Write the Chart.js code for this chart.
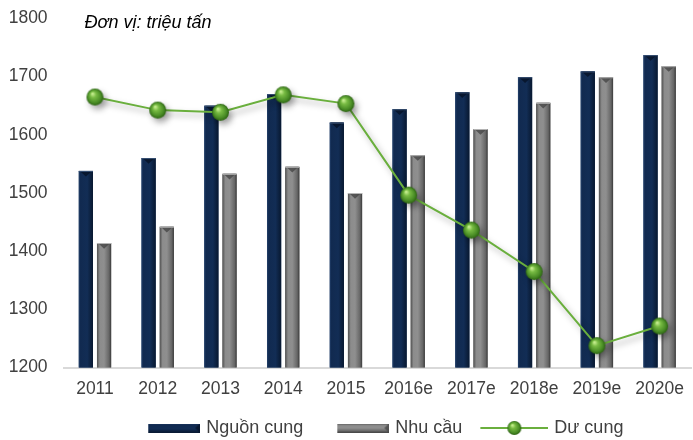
<!DOCTYPE html>
<html>
<head>
<meta charset="utf-8">
<title>Cung cầu</title>
<script src="https://cdn.jsdelivr.net/npm/chart.js@4.4.1/dist/chart.umd.min.js"></script>
<style>
  html, body { margin: 0; padding: 0; background: #fff; overflow: hidden; }
  #wrap { position: relative; width: 702px; height: 440px; }
</style>
</head>
<body>
<div id="wrap"><canvas id="supplyChart"></canvas></div>
<script>
// Data (triệu tấn)
const years = ['2011', '2012', '2013', '2014', '2015', '2016e', '2017e', '2018e', '2019e', '2020e'];
const supply = [1538, 1560, 1650, 1670, 1621, 1644, 1673, 1699, 1709, 1737];
const demand = [1414, 1442, 1533, 1545, 1500, 1565, 1610, 1655, 1699, 1718];
const surplus = [124, 118, 117, 125, 121, 79, 63, 44, 10, 19];
const yTicks = [1200, 1300, 1400, 1500, 1600, 1700, 1800];

const FONT = '"Liberation Sans", Arial, sans-serif';
const TEXT = '#404040';
const LINE_GREEN = '#6aaf3d';

// Bar shading: horizontal gradient stops + bevel colour
const shades = {
    navy: {
        stops: [[0, '#24416b'], [0.12, '#112a50'], [0.6, '#122d55'], [1, '#081830']],
        bevel: 'rgba(4, 14, 32, 0.7)',
        edge: '#3b5478'
    },
    gray: {
        stops: [[0, '#505050'], [0.2, '#8c8c8c'], [0.5, '#8f8f8f'], [0.85, '#666666'], [1, '#3a3a3a']],
        bevel: 'rgba(70, 70, 70, 0.8)',
        edge: '#b5b5b5'
    }
};

// Legend icon box: icons are right-aligned inside a canvas a bit wider than the box
const ICON_BOX = 76;
const ICON_W = ICON_BOX + 6;

function makeSphere(r) {
    const pad = 2;
    const c = document.createElement('canvas');
    c.width = c.height = (r + pad) * 2;
    const g = c.getContext('2d');
    const cx = r + pad, cy = r + pad;
    const grad = g.createRadialGradient(cx - r * 0.3, cy - r * 0.4, r * 0.08, cx, cy, r);
    grad.addColorStop(0, '#c3ec8c');
    grad.addColorStop(0.3, '#78bb43');
    grad.addColorStop(0.75, '#4a8d26');
    grad.addColorStop(1, '#2c6312');
    g.fillStyle = grad;
    g.beginPath();
    g.arc(cx, cy, r, 0, Math.PI * 2);
    g.fill();
    return c;
}

function makeBarSwatch(shade) {
    const c = document.createElement('canvas');
    c.width = ICON_W; c.height = 9;
    const g = c.getContext('2d');
    const x0 = ICON_W - 52;
    const grad = g.createLinearGradient(0, 0, 0, 9);
    shades[shade].stops.forEach(([p, col]) => grad.addColorStop(p, col));
    g.fillStyle = grad;
    g.fillRect(x0, 0, 52, 9);
    g.fillStyle = shades[shade].bevel;
    g.beginPath();
    g.moveTo(ICON_W, 0); g.lineTo(ICON_W, 9); g.lineTo(ICON_W - 5, 4.5); g.closePath();
    g.fill();
    return c;
}

function makeLineSwatch() {
    const c = document.createElement('canvas');
    c.width = ICON_W; c.height = 20;
    const g = c.getContext('2d');
    const x0 = ICON_W - 68;
    g.strokeStyle = LINE_GREEN;
    g.lineWidth = 2;
    g.beginPath(); g.moveTo(x0, 10); g.lineTo(ICON_W, 10); g.stroke();
    const s = makeSphere(7);
    g.drawImage(s, x0 + 34 - s.width / 2, 10 - s.height / 2);
    return c;
}

const sphere = makeSphere(8.5);
const legendIcons = [makeBarSwatch('navy'), makeBarSwatch('gray'), makeLineSwatch()];

// Paints the 3D-looking fill over each bar after the library has placed it
const barShading = {
    id: 'barShading',
    afterDatasetDraw(chart, args) {
        const ds = chart.data.datasets[args.index];
        if (!ds.shade) return;
        const shade = shades[ds.shade];
        const {ctx, chartArea} = chart;
        ctx.save();
        ctx.beginPath();
        ctx.rect(chartArea.left, chartArea.top, chartArea.right - chartArea.left, chartArea.bottom - chartArea.top);
        ctx.clip();
        args.meta.data.forEach(bar => {
            const {x, y, base, width} = bar.getProps(['x', 'y', 'base', 'width'], true);
            const l = x - width / 2, r = x + width / 2;
            const grad = ctx.createLinearGradient(l, 0, r, 0);
            shade.stops.forEach(([p, col]) => grad.addColorStop(p, col));
            ctx.fillStyle = grad;
            ctx.fillRect(l, y, width, base - y);
            ctx.fillStyle = shade.bevel;
            ctx.beginPath();
            ctx.moveTo(l + 1, y);
            ctx.lineTo(r - 1, y);
            ctx.lineTo(x, y + width * 0.4);
            ctx.closePath();
            ctx.fill();
            ctx.strokeStyle = shade.edge;
            ctx.lineWidth = 1;
            ctx.beginPath();
            ctx.moveTo(l, y + 0.5);
            ctx.lineTo(r, y + 0.5);
            ctx.stroke();
        });
        ctx.restore();
    }
};

// Soft drop shadow under the surplus line and its markers
const lineShadow = {
    id: 'lineShadow',
    beforeDatasetDraw(chart, args) {
        if (chart.data.datasets[args.index].type !== 'line') return;
        const ctx = chart.ctx;
        ctx.save();
        ctx.shadowColor = 'rgba(0, 0, 0, 0.35)';
        ctx.shadowBlur = 6;
        ctx.shadowOffsetX = 3;
        ctx.shadowOffsetY = 4;
    },
    afterDatasetDraw(chart, args) {
        if (chart.data.datasets[args.index].type !== 'line') return;
        chart.ctx.restore();
    }
};

// Unit note in the top-left corner of the plot
const unitLabel = {
    id: 'unitLabel',
    afterDraw(chart) {
        const {ctx, chartArea} = chart;
        ctx.save();
        ctx.font = 'italic 18px ' + FONT;
        ctx.fillStyle = '#000000';
        ctx.textBaseline = 'middle';
        ctx.fillText('Đơn vị: triệu tấn', chartArea.left + 21, chartArea.top + 4);
        ctx.restore();
    }
};

// Nudge the legend row a little to the left of the plot centre
const legendShift = {
    id: 'legendShift',
    afterLayout(chart) {
        chart.legend.left -= 5;
        chart.legend.right -= 5;
    }
};

new Chart(document.getElementById('supplyChart'), {
    type: 'bar',
    data: {
        labels: years,
        datasets: [
            {
                label: 'Nguồn cung',
                data: supply,
                shade: 'navy',
                backgroundColor: '#13305a',
                categoryPercentage: 0.58,
                barPercentage: 0.78,
                yAxisID: 'y',
                order: 2
            },
            {
                label: 'Nhu cầu',
                data: demand,
                shade: 'gray',
                backgroundColor: '#808080',
                categoryPercentage: 0.58,
                barPercentage: 0.78,
                yAxisID: 'y',
                order: 2
            },
            {
                type: 'line',
                label: 'Dư cung',
                data: surplus,
                borderColor: LINE_GREEN,
                borderWidth: 2,
                pointStyle: sphere,
                pointRadius: 9,
                pointHoverRadius: 9,
                tension: 0,
                yAxisID: 'y1',
                order: 1
            }
        ]
    },
    options: {
        responsive: true,
        maintainAspectRatio: false,
        animation: false,
        layout: {
            padding: { left: 8, top: 18.5, right: 1, bottom: -7 }
        },
        scales: {
            x: {
                grid: { display: false, drawTicks: false },
                border: { display: true, color: '#d9d9d9', width: 2 },
                afterFit: scale => {
                    scale.height += 0.5;
                    scale.paddingLeft = 0;
                    scale.paddingRight = 0;
                },
                ticks: {
                    color: TEXT,
                    font: { family: FONT, size: 17.5 },
                    padding: 11.5,
                    autoSkip: false,
                    maxRotation: 0
                }
            },
            y: {
                min: yTicks[0],
                max: yTicks[yTicks.length - 1],
                grid: { display: false, drawTicks: false },
                border: { display: false },
                afterBuildTicks: axis => { axis.ticks = yTicks.map(v => ({ value: v })); },
                afterFit: scale => {
                    scale.width = 55.6;
                    scale.paddingTop = 0;
                    scale.paddingBottom = 0;
                },
                ticks: {
                    color: TEXT,
                    font: { family: FONT, size: 17.5 },
                    padding: 16,
                    callback: v => String(v)
                }
            },
            y1: {
                display: false,
                min: 0,
                max: 160
            }
        },
        plugins: {
            legend: {
                position: 'bottom',
                fullSize: false,
                labels: {
                    usePointStyle: true,
                    pointStyleWidth: ICON_BOX,
                    padding: 7,
                    color: TEXT,
                    font: { family: FONT, size: 18 },
                    generateLabels: chart => chart.data.datasets.map((ds, i) => ({
                        text: ds.label,
                        pointStyle: legendIcons[i],
                        datasetIndex: i,
                        hidden: false,
                        lineWidth: 0,
                        fontColor: TEXT
                    }))
                }
            },
            tooltip: { enabled: false }
        }
    },
    plugins: [barShading, lineShadow, unitLabel, legendShift]
});
</script>
</body>
</html>
